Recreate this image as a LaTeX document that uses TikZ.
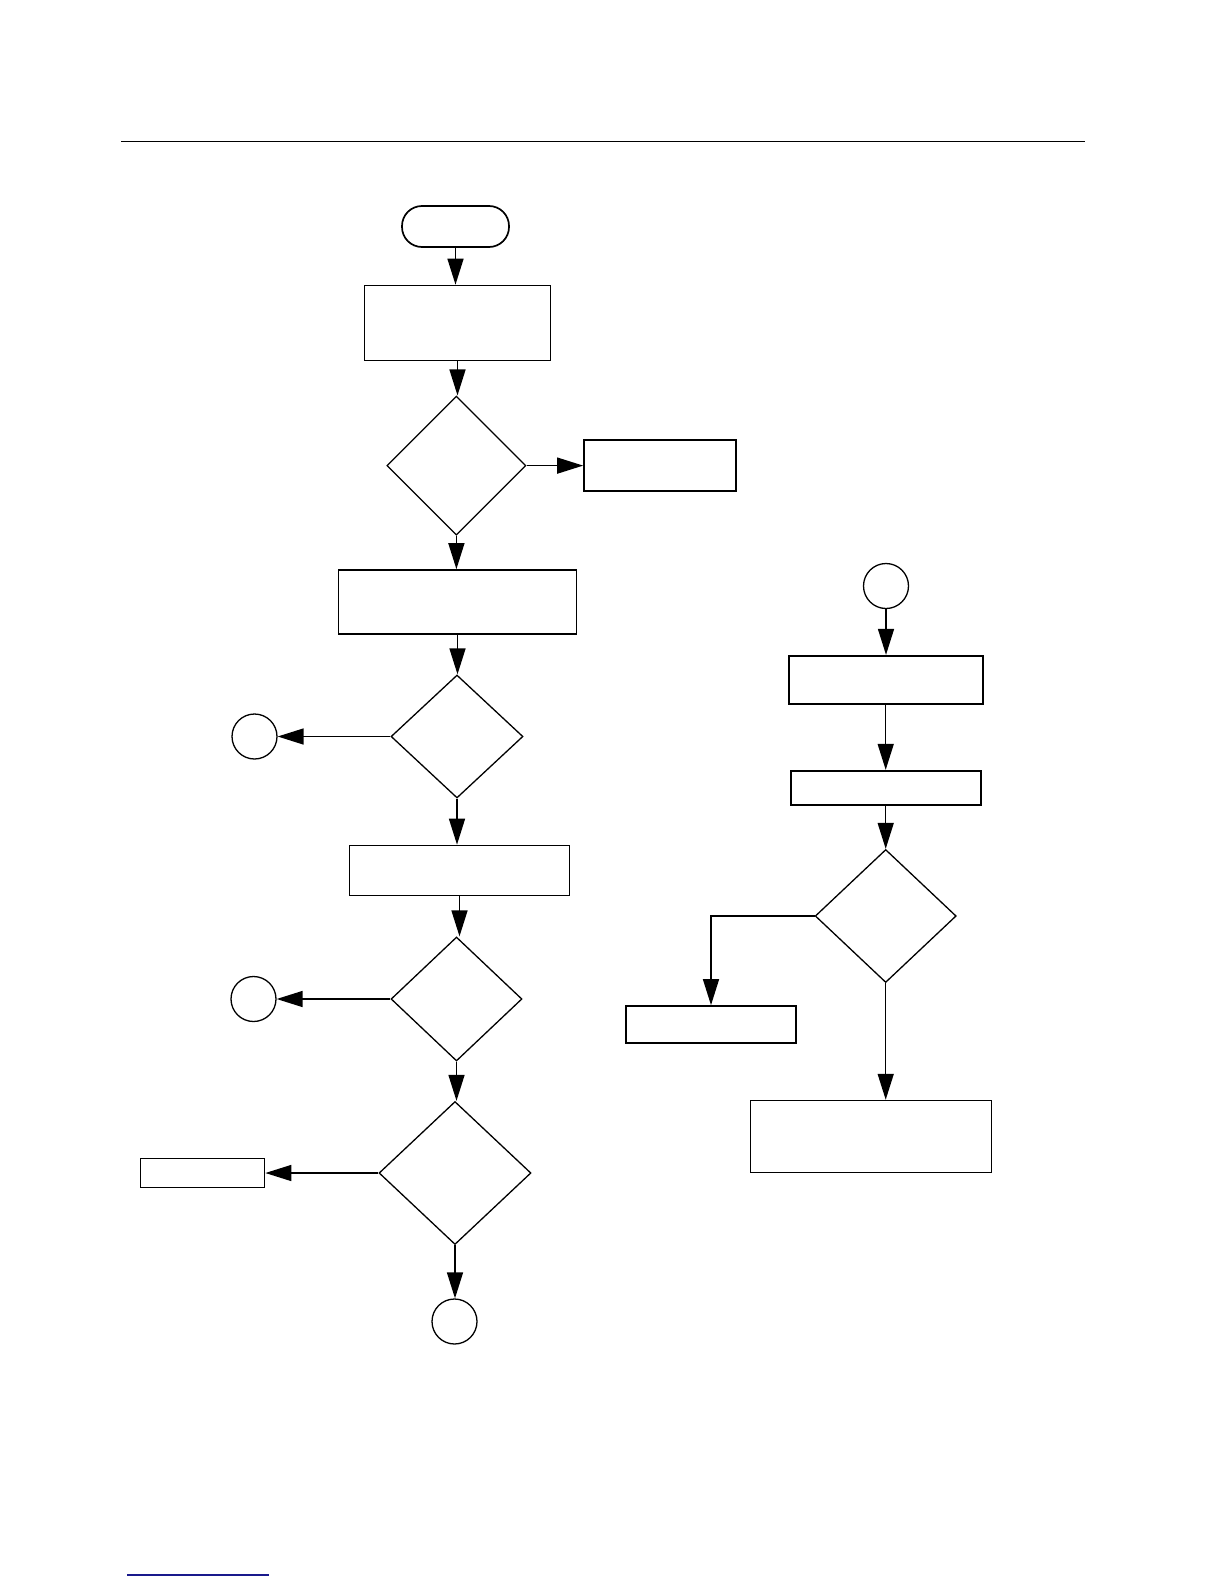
\documentclass[tikz,border=0pt]{standalone}
\usepackage{xcolor}
\usetikzlibrary{arrows.meta,positioning,shapes.geometric}
\definecolor{linkblue}{RGB}{25,25,140}

\begin{document}
\begin{tikzpicture}[x=1pt,y=-1pt,
  box/.style={draw,line width=1.7pt,inner sep=0pt},
  test/.style={draw,diamond,line width=1.3pt,inner sep=0pt},
  conn/.style={draw,circle,line width=1.3pt,inner sep=0pt,minimum size=45pt},
  flow/.style={line width=1.5pt,-{Triangle[length=26pt,width=16pt]}}]
  \useasboundingbox (0,0) rectangle (1224,1584);
  % rules
  \draw[line width=1.7pt] (121,141.4) -- (1084.6,141.4);
  \draw[linkblue,line width=1.4pt] (127,1575) -- (269,1575);
  % left column
  \node[box,rounded corners=20pt,minimum width=107pt,minimum height=41pt] (start) at (455.5,226.5) {};
  \node[box,minimum width=186pt,minimum height=75pt] (read) at (457.5,323) {};
  \node[test,minimum width=139pt,minimum height=139pt] (chk1) at (456.4,465.6) {};
  \node[box,minimum width=152pt,minimum height=51pt] (err1) at (660,465.6) {};
  \node[box,minimum width=238pt,minimum height=64pt] (calc) at (457.5,602) {};
  \node[test,minimum width=132pt,minimum height=123pt] (chk2) at (457,736.5) {};
  \node[conn] (ca) at (254.5,736.5) {};
  \node[box,minimum width=220pt,minimum height=50pt] (upd) at (459.5,870.5) {};
  \node[test,minimum width=131pt,minimum height=124pt] (chk3) at (456.5,999) {};
  \node[conn] (cb) at (253.5,999) {};
  \node[test,minimum width=152pt,minimum height=143pt] (chk4) at (455,1173) {};
  \node[box,minimum width=124pt,minimum height=29pt] (err2) at (202.5,1173) {};
  \node[conn] (cc) at (454.5,1321.5) {};
  % right column
  \node[conn] (cd) at (886,586) {};
  \node[box,minimum width=194pt,minimum height=48pt] (init) at (885.7,679.7) {};
  \node[box,minimum width=190pt,minimum height=34pt] (load) at (885.7,787.7) {};
  \node[test,minimum width=141pt,minimum height=133pt] (chk5) at (885.7,916) {};
  \node[box,minimum width=170pt,minimum height=37pt] (err3) at (711,1024.5) {};
  \node[box,minimum width=241pt,minimum height=72pt] (done) at (871,1136.6) {};
  % connectors
  \foreach \a/\b in {start/read,read/chk1,chk1/calc,calc/chk2,chk2/upd,upd/chk3,
                     chk3/chk4,chk4/cc,cd/init,init/load,load/chk5,chk5/done}
    \draw[flow] (\a.south) -- (\a.south |- \b.north);
  \draw[flow] (chk1.east) -- (err1.west);
  \draw[flow] (chk2.west) -- (ca.east);
  \draw[flow] (chk3.west) -- (cb.east);
  \draw[flow] (chk4.west) -- (err2.east);
  \draw[flow] (chk5.west) -| (err3.north);
\end{tikzpicture}
\end{document}
